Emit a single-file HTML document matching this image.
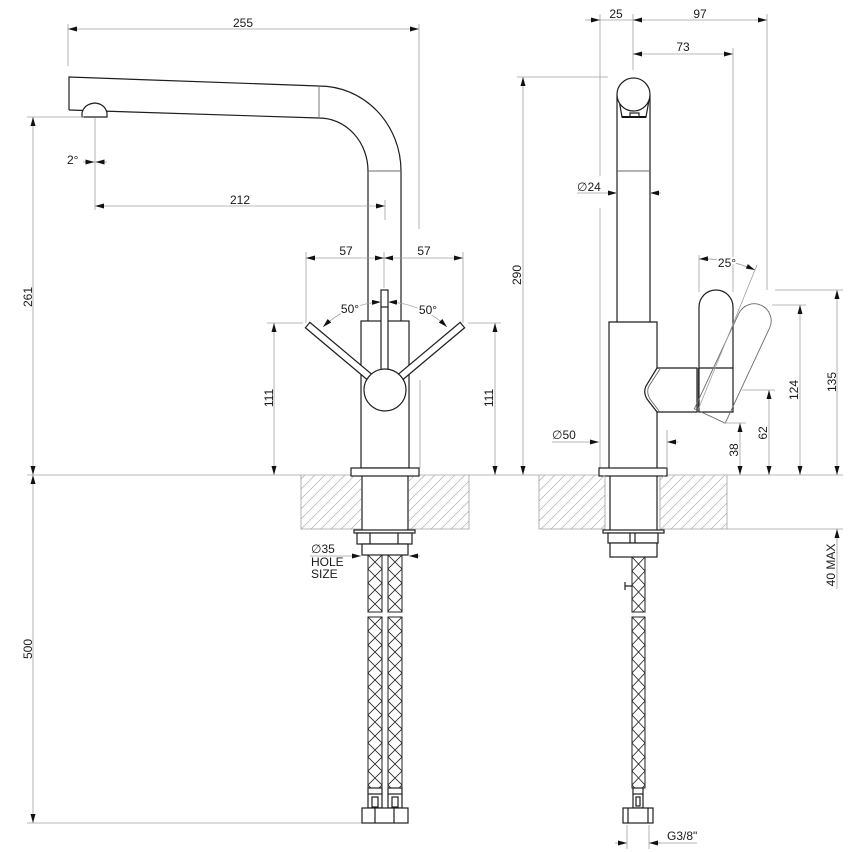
<!DOCTYPE html>
<html><head><meta charset="utf-8"><style>
html,body{margin:0;padding:0;background:#fff}
svg{display:block}
.o{stroke:#1e1e1e;stroke-width:1.2;fill:none}
.of{stroke:#1e1e1e;stroke-width:1.2;fill:#fff}
.d{stroke:#a0a0a0;stroke-width:0.8;fill:none}
.g{stroke:#6a6a6a;stroke-width:0.9;fill:none}
text{font-family:"Liberation Sans","DejaVu Sans",sans-serif;font-size:12px;fill:#1a1a1a}
.h{stroke:#fff;stroke-width:4;paint-order:stroke}
</style></head><body>
<svg width="853" height="852" viewBox="0 0 853 852" xmlns="http://www.w3.org/2000/svg">
<defs>
<marker id="ar" viewBox="0 0 9 5" refX="9" refY="2.5" markerWidth="9" markerHeight="5" markerUnits="userSpaceOnUse" orient="auto-start-reverse"><path d="M0,0L9,2.5L0,5z" fill="#111"/></marker>
<pattern id="hatch" width="10" height="10" patternUnits="userSpaceOnUse"><path d="M-1,1L1,-1M0,10L10,0M9,11L11,9" stroke="#b0b0b0" stroke-width="0.7"/></pattern>
<pattern id="br14" width="14" height="28" patternUnits="userSpaceOnUse"><path d="M0,0L14,14L0,28M14,0L0,14L14,28" stroke="#222" stroke-width="0.8" fill="none"/></pattern>
<pattern id="br13" width="13" height="28" patternUnits="userSpaceOnUse"><path d="M0,0L13,14L0,28M13,0L0,14L13,28" stroke="#222" stroke-width="0.8" fill="none"/></pattern>
</defs>
<rect width="853" height="852" fill="#fff"/>

<!-- ============ LEFT VIEW ============ -->
<line class="d" x1="68" y1="24" x2="68" y2="66"/>
<line class="d" x1="419" y1="24" x2="419" y2="229"/>
<line class="d" x1="68" y1="29" x2="419" y2="29" marker-start="url(#ar)" marker-end="url(#ar)"/>
<text x="243" y="27" text-anchor="middle">255</text>

<path class="o" d="M69,110 L69,77 L319,86 A82,85 0 0 1 401,171 L401,321"/>
<path class="o" d="M69,110 L319,118 A49,53 0 0 1 368,171 L368,321"/>
<line class="g" x1="319" y1="86" x2="319" y2="118"/>
<line class="g" x1="368" y1="171" x2="401" y2="171"/>
<path class="of" d="M82,117 L82,113 Q84,104 95,103 Q105,104 107,113 L107,117 Z"/>

<line class="d" x1="95" y1="118" x2="95" y2="210"/>
<line class="d" x1="83" y1="162" x2="94.5" y2="162" marker-end="url(#ar)"/>
<line class="d" x1="107" y1="162" x2="95.5" y2="162" marker-end="url(#ar)"/>
<text x="67" y="164">2°</text>

<line class="d" x1="385" y1="200" x2="385" y2="220"/>
<line class="d" x1="95" y1="206" x2="385" y2="206" marker-start="url(#ar)" marker-end="url(#ar)"/>
<text x="240" y="204" text-anchor="middle">212</text>

<line class="d" x1="27" y1="117" x2="84" y2="117"/>
<line class="d" x1="33" y1="117" x2="33" y2="475" marker-start="url(#ar)" marker-end="url(#ar)"/>
<line class="d" x1="33" y1="475" x2="33" y2="823" marker-start="url(#ar)" marker-end="url(#ar)"/>
<text transform="translate(32,297) rotate(-90)" text-anchor="middle">261</text>
<text transform="translate(32,649) rotate(-90)" text-anchor="middle">500</text>
<line class="d" x1="27" y1="823" x2="362" y2="823"/>

<line class="d" x1="27" y1="475" x2="843" y2="475"/>

<line class="d" x1="306" y1="252" x2="306" y2="323"/>
<line class="d" x1="463" y1="252" x2="463" y2="323"/>
<line class="d" x1="384" y1="252" x2="384" y2="288"/>
<line class="d" x1="306" y1="258" x2="384" y2="258" marker-start="url(#ar)" marker-end="url(#ar)"/>
<line class="d" x1="384" y1="258" x2="463" y2="258" marker-start="url(#ar)" marker-end="url(#ar)"/>
<text x="346" y="255" text-anchor="middle">57</text>
<text x="424" y="255" text-anchor="middle">57</text>

<line class="d" x1="267" y1="323" x2="303" y2="323"/>
<line class="d" x1="274" y1="323" x2="274" y2="475" marker-start="url(#ar)" marker-end="url(#ar)"/>
<line class="d" x1="468" y1="323" x2="501" y2="323"/>
<line class="d" x1="495" y1="323" x2="495" y2="475" marker-start="url(#ar)" marker-end="url(#ar)"/>
<text transform="translate(273,398) rotate(-90)" text-anchor="middle">111</text>
<text transform="translate(493,398) rotate(-90)" text-anchor="middle">111</text>
<line class="d" x1="420" y1="380" x2="420" y2="468"/>

<rect class="of" x="361" y="321" width="48" height="147"/>
<g transform="translate(385,390) rotate(-50)"><rect class="of" x="-3.5" y="-101" width="7" height="82"/></g>
<g transform="translate(385,390) rotate(50)"><rect class="of" x="-3.5" y="-101" width="7" height="82"/></g>
<rect class="of" x="381" y="290" width="7" height="82"/>
<line class="o" x1="381" y1="307" x2="388" y2="307"/>
<circle class="of" cx="385" cy="390" r="21"/>

<path class="d" d="M381,302 A88,88 0 0 0 323,327" marker-start="url(#ar)" marker-end="url(#ar)"/>
<path class="d" d="M388,302 A88,88 0 0 1 447,327" marker-start="url(#ar)" marker-end="url(#ar)"/>
<text class="h" x="350" y="313" text-anchor="middle">50°</text>
<text class="h" x="428" y="314" text-anchor="middle">50°</text>

<rect fill="url(#hatch)" x="301" y="475" width="60" height="54"/>
<rect fill="url(#hatch)" x="409" y="475" width="60" height="54"/>
<path class="d" d="M301,475 L301,529 L361,529 M409,529 L469,529 L469,475"/>

<rect class="of" x="351" y="468" width="68" height="8"/>
<line class="o" x1="362" y1="476" x2="362" y2="530"/>
<line class="o" x1="408" y1="476" x2="408" y2="530"/>
<rect class="of" x="354" y="530" width="61" height="3"/>
<rect class="of" x="357" y="533" width="55" height="11"/>
<line class="o" x1="370" y1="533" x2="370" y2="544"/>
<line class="o" x1="398" y1="533" x2="398" y2="544"/>
<rect class="of" x="362" y="544" width="46" height="11"/>

<text x="311" y="553">∅35</text>
<text x="311" y="566">HOLE</text>
<text x="311" y="578">SIZE</text>
<line class="d" x1="310" y1="556" x2="361" y2="556" marker-end="url(#ar)"/>
<line class="d" x1="420" y1="556" x2="409" y2="556" marker-end="url(#ar)"/>

<g transform="translate(368,555)"><rect width="14" height="57" style="fill:url(#br14);stroke:#222;stroke-width:1"/></g>
<g transform="translate(388,555)"><rect width="14" height="57" style="fill:url(#br14);stroke:#222;stroke-width:1"/></g>
<g transform="translate(368,617)"><rect width="14" height="171" style="fill:url(#br14);stroke:#222;stroke-width:1"/></g>
<g transform="translate(388,617)"><rect width="14" height="171" style="fill:url(#br14);stroke:#222;stroke-width:1"/></g>
<rect class="of" x="368" y="788" width="14" height="20"/>
<line class="o" x1="368" y1="794" x2="382" y2="794"/>
<rect class="o" x="372" y="797" width="6" height="10"/>
<rect class="of" x="388" y="788" width="14" height="20"/>
<line class="o" x1="388" y1="794" x2="402" y2="794"/>
<rect class="o" x="392" y="797" width="6" height="10"/>
<rect class="of" x="362" y="808" width="46" height="15"/>
<line class="o" x1="375" y1="808" x2="375" y2="823"/>
<line class="o" x1="394" y1="808" x2="394" y2="823"/>

<!-- ============ RIGHT VIEW ============ -->
<line class="d" x1="600" y1="14" x2="600" y2="176"/>
<line class="d" x1="600" y1="208" x2="600" y2="468"/>
<line class="d" x1="633" y1="14" x2="633" y2="70"/>
<line class="d" x1="767" y1="14" x2="767" y2="290"/>
<line class="d" x1="733" y1="48" x2="733" y2="292"/>
<line class="d" x1="585" y1="20" x2="767" y2="20"/>
<line class="d" x1="588" y1="20" x2="600" y2="20" marker-end="url(#ar)"/>
<line class="d" x1="645" y1="20" x2="633" y2="20" marker-end="url(#ar)"/>
<line class="d" x1="755" y1="20" x2="767" y2="20" marker-end="url(#ar)"/>
<text x="616" y="18" text-anchor="middle">25</text>
<text x="700" y="18" text-anchor="middle">97</text>
<line class="d" x1="633" y1="54" x2="733" y2="54" marker-start="url(#ar)" marker-end="url(#ar)"/>
<text x="683" y="51" text-anchor="middle">73</text>

<line class="d" x1="517" y1="77" x2="608" y2="77"/>
<line class="d" x1="523" y1="77" x2="523" y2="475" marker-start="url(#ar)" marker-end="url(#ar)"/>
<text transform="translate(521,275) rotate(-90)" text-anchor="middle">290</text>

<line class="o" x1="617" y1="95" x2="617" y2="322"/>
<line class="o" x1="650" y1="95" x2="650" y2="322"/>
<path class="o" d="M619,100 L622,117 L646,117 L649,100"/>
<line stroke="#111" stroke-width="2" x1="622" y1="117" x2="646" y2="117"/>
<rect class="o" x="630" y="113" width="9" height="4"/>
<circle class="of" cx="633.5" cy="94.5" r="16.5"/>
<line class="g" x1="617" y1="171" x2="650" y2="171"/>

<text x="577" y="191">∅24</text>
<line class="d" x1="577" y1="193" x2="617" y2="193" marker-end="url(#ar)"/>
<line class="d" x1="661" y1="193" x2="650" y2="193" marker-end="url(#ar)"/>

<path class="o" d="M657,368 L657,322 L609,322 L609,468 M657,412 L657,468"/>
<rect class="of" x="599" y="468" width="68" height="8"/>

<path class="o" d="M657,368 L697,368 L697,412 L657,412"/>
<path class="o" d="M657,368 L646,386 Q643,392 647,399 L657,412"/>
<path class="g" d="M660,369 L649,386 Q646,392 650,399 L659,411"/>
<rect x="697" y="368" width="2.5" height="44" fill="#555"/>

<path class="of" d="M699,412 L699,307 A17,17 0 0 1 733,307 L733,412 Z"/>
<line class="o" x1="699" y1="368" x2="733" y2="368"/>
<path class="g" transform="rotate(25 704 400)" d="M699,412 L699,307 A17,17 0 0 1 733,307 L733,412 Z"/>

<line class="d" x1="699" y1="255" x2="699" y2="292"/>
<line class="d" x1="698" y1="410" x2="757" y2="265"/>
<path class="d" d="M699,259 Q728,258 755,270" marker-start="url(#ar)" marker-end="url(#ar)"/>
<text class="h" x="727" y="267" text-anchor="middle">25°</text>

<line class="d" x1="775" y1="290" x2="843" y2="290"/>
<line class="d" x1="837" y1="290" x2="837" y2="475" marker-start="url(#ar)" marker-end="url(#ar)"/>
<text transform="translate(836,382) rotate(-90)" text-anchor="middle">135</text>
<line class="d" x1="772" y1="305" x2="806" y2="305"/>
<line class="d" x1="800" y1="305" x2="800" y2="475" marker-start="url(#ar)" marker-end="url(#ar)"/>
<text transform="translate(798,390) rotate(-90)" text-anchor="middle">124</text>
<line class="d" x1="742" y1="390" x2="775" y2="390"/>
<line class="d" x1="769" y1="390" x2="769" y2="475" marker-start="url(#ar)" marker-end="url(#ar)"/>
<text transform="translate(767,433) rotate(-90)" text-anchor="middle">62</text>
<line class="d" x1="723" y1="423" x2="746" y2="423"/>
<line class="d" x1="740" y1="423" x2="740" y2="475" marker-start="url(#ar)" marker-end="url(#ar)"/>
<text transform="translate(738,450) rotate(-90)" text-anchor="middle">38</text>

<line class="d" x1="727" y1="529" x2="843" y2="529"/>
<line class="d" x1="837" y1="529" x2="837" y2="589" marker-start="url(#ar)"/>
<text transform="translate(835,565) rotate(-90)" text-anchor="middle">40 MAX</text>

<text x="552" y="439">∅50</text>
<line class="d" x1="552" y1="442" x2="599" y2="442" marker-end="url(#ar)"/>
<line class="d" x1="678" y1="442" x2="667" y2="442" marker-end="url(#ar)"/>
<line class="d" x1="667" y1="430" x2="667" y2="468"/>

<rect fill="url(#hatch)" x="539" y="475" width="66" height="54"/>
<rect fill="url(#hatch)" x="660" y="475" width="67" height="54"/>
<path class="d" d="M539,475 L539,529 L605,529 L605,476 M660,476 L660,529 L727,529 L727,475"/>

<line class="o" x1="610" y1="476" x2="610" y2="530"/>
<line class="o" x1="657" y1="476" x2="657" y2="530"/>
<rect class="of" x="603" y="530" width="61" height="3"/>
<rect class="of" x="608" y="533" width="50" height="10"/>
<line class="o" x1="630" y1="533" x2="630" y2="543"/>
<line class="o" x1="635" y1="533" x2="635" y2="543"/>
<rect class="of" x="610" y="543" width="47" height="14"/>

<g transform="translate(632,557)"><rect width="13" height="55" style="fill:url(#br13);stroke:#222;stroke-width:1"/></g>
<g transform="translate(632,617)"><rect width="13" height="171" style="fill:url(#br13);stroke:#222;stroke-width:1"/></g>
<path class="o" d="M625,582 L625,590 M625,586 L632,586"/>
<rect class="of" x="633" y="788" width="10" height="20"/>
<line class="o" x1="633" y1="794" x2="643" y2="794"/>
<rect class="o" x="636" y="797" width="4" height="9"/>
<rect class="of" x="623" y="808" width="30" height="15"/>
<line class="o" x1="628" y1="808" x2="628" y2="823"/>
<line class="o" x1="648" y1="808" x2="648" y2="823"/>

<line class="d" x1="627" y1="825" x2="627" y2="849"/>
<line class="d" x1="649" y1="825" x2="649" y2="849"/>
<line class="d" x1="615" y1="843" x2="627" y2="843" marker-end="url(#ar)"/>
<line class="d" x1="697" y1="843" x2="649" y2="843"/>
<line class="d" x1="661" y1="843" x2="649" y2="843" marker-end="url(#ar)"/>
<text x="667" y="840">G3/8"</text>
</svg>
</body></html>
